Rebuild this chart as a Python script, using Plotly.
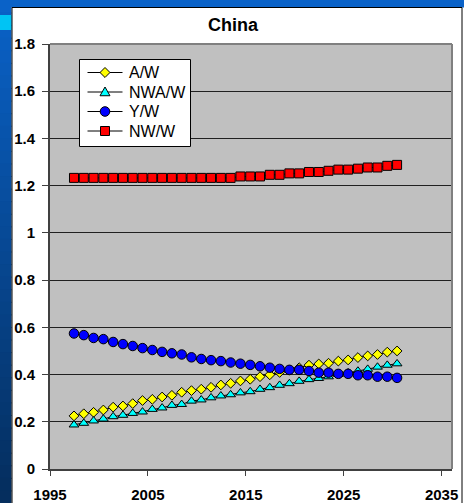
import plotly.graph_objects as go

# ---- data ----
years = list(range(1997, 2031))
a_w = [0.225, 0.234, 0.240, 0.250, 0.262, 0.267, 0.277, 0.290, 0.295, 0.305,
       0.312, 0.325, 0.332, 0.338, 0.346, 0.356, 0.363, 0.373, 0.380, 0.391,
       0.399, 0.409, 0.418, 0.429, 0.440, 0.445, 0.448, 0.457, 0.462, 0.472,
       0.479, 0.485, 0.495, 0.500]
nwa_w = [0.187, 0.194, 0.204, 0.212, 0.222, 0.228, 0.236, 0.242, 0.253, 0.259,
         0.270, 0.274, 0.288, 0.293, 0.302, 0.310, 0.315, 0.323, 0.328, 0.338,
         0.345, 0.355, 0.362, 0.372, 0.379, 0.384, 0.391, 0.401, 0.408, 0.415,
         0.423, 0.432, 0.440, 0.446]
y_w = [0.574, 0.567, 0.555, 0.550, 0.538, 0.529, 0.521, 0.512, 0.504, 0.496,
       0.490, 0.485, 0.473, 0.466, 0.461, 0.457, 0.451, 0.446, 0.441, 0.435,
       0.429, 0.424, 0.420, 0.420, 0.415, 0.408, 0.408, 0.403, 0.403, 0.397,
       0.397, 0.391, 0.391, 0.386]
nw_w = [1.233, 1.233, 1.233, 1.233, 1.233, 1.233, 1.233, 1.233, 1.233, 1.233,
        1.233, 1.233, 1.233, 1.233, 1.233, 1.233, 1.233, 1.239, 1.239, 1.239,
        1.246, 1.246, 1.252, 1.252, 1.258, 1.258, 1.263, 1.268, 1.268, 1.272,
        1.277, 1.277, 1.284, 1.288]
series_names = ["A/W", "NWA/W", "Y/W", "NW/W"]
x_ticks = [1995, 2005, 2015, 2025, 2035]
y_ticks = [0, 0.2, 0.4, 0.6, 0.8, 1, 1.2, 1.4, 1.6, 1.8]

# observations plotted at mid-year
x_pos = [yr + 0.45 for yr in years]

FONT = "Liberation Sans, Arial, sans-serif"

styles = [
    dict(symbol="diamond", color="#FFFF00", size=7.5),
    dict(symbol="triangle-up", color="#00FFFF", size=8.5),
    dict(symbol="circle", color="#0000FF", size=9.5),
    dict(symbol="square", color="#FF0000", size=9),
]

fig = go.Figure()
for name, vals, st in zip(series_names, [a_w, nwa_w, y_w, nw_w], styles):
    fig.add_trace(go.Scatter(
        x=x_pos, y=vals, name=name, mode="lines+markers",
        line=dict(color="#000000", width=1),
        marker=dict(symbol=st["symbol"], color=st["color"], size=st["size"],
                    line=dict(color="#000000", width=1)),
        showlegend=False,
    ))

W, H = 464, 503
L, R, T, B = 50, 12, 44, 34
pw, ph = W - L - R, H - T - B


def px_x(p):
    return (p - L) / pw


def px_y(p):
    return (H - B - p) / ph


shapes = []
annotations = []
# left gradient strip
top_c = (0x0A, 0x62, 0xC8)
bot_c = (0x05, 0x2E, 0x5E)
n = 40
for i in range(n):
    t = i / (n - 1)
    c = tuple(int(top_c[k] + (bot_c[k] - top_c[k]) * t) for k in range(3))
    y0p = H * i / n
    y1p = H * (i + 1) / n + 1
    shapes.append(dict(type="rect", xref="paper", yref="paper",
                       x0=px_x(-2), x1=px_x(11.5), y0=px_y(y1p), y1=px_y(y0p),
                       fillcolor="rgb(%d,%d,%d)" % c, line=dict(width=0),
                       layer="above"))
# top strip
shapes.append(dict(type="rect", xref="paper", yref="paper",
                   x0=px_x(-2), x1=px_x(W + 2), y0=px_y(7.5), y1=px_y(-2),
                   fillcolor="rgb(10,98,200)", line=dict(width=0), layer="above"))
# cyan accent
shapes.append(dict(type="rect", xref="paper", yref="paper",
                   x0=px_x(-2), x1=px_x(11.5), y0=px_y(30), y1=px_y(15),
                   fillcolor="#00C4F4", line=dict(width=0), layer="above"))
# white frame border
shapes.append(dict(type="rect", xref="paper", yref="paper",
                   x0=px_x(12), x1=px_x(462), y0=px_y(H + 10), y1=px_y(7.5),
                   fillcolor="rgba(0,0,0,0)", line=dict(color="#000000", width=1),
                   layer="above"))
# plot area top/right border (gray)
shapes.append(dict(type="line", xref="paper", yref="paper",
                   x0=0, x1=1, y0=1, y1=1,
                   line=dict(color="#808080", width=2), layer="above"))
shapes.append(dict(type="line", xref="paper", yref="paper",
                   x0=1, x1=1, y0=0, y1=1,
                   line=dict(color="#808080", width=2), layer="above"))

# ---- legend box ----
lg_x0, lg_x1, lg_y0, lg_y1 = 79.5, 190.5, 59.5, 146.5
shapes.append(dict(type="rect", xref="paper", yref="paper",
                   x0=px_x(lg_x0), x1=px_x(lg_x1), y0=px_y(lg_y1), y1=px_y(lg_y0),
                   fillcolor="#FFFFFF", line=dict(color="#000000", width=1),
                   layer="above"))
item_y = [72.5, 92.0, 111.5, 131.0]
line_x0, line_x1, sym_x, text_x = 87.5, 122.5, 105.0, 127.0
for name, st, yc in zip(series_names, styles, item_y):
    shapes.append(dict(type="line", xref="paper", yref="paper",
                       x0=px_x(line_x0), x1=px_x(line_x1),
                       y0=px_y(yc), y1=px_y(yc),
                       line=dict(color="#000000", width=1), layer="above"))
    sym = st["symbol"]
    if sym == "diamond":
        r = 5.0
        pts = [(sym_x, yc - r), (sym_x + r, yc), (sym_x, yc + r), (sym_x - r, yc)]
    elif sym == "triangle-up":
        r = 5.0
        pts = [(sym_x, yc - r), (sym_x + r, yc + r * 0.75), (sym_x - r, yc + r * 0.75)]
    else:
        pts = None
    if pts is not None:
        path = "M " + " L ".join("%.5f,%.5f" % (px_x(a), px_y(b)) for a, b in pts) + " Z"
        shapes.append(dict(type="path", xref="paper", yref="paper", path=path,
                           fillcolor=st["color"], line=dict(color="#000000", width=1),
                           layer="above"))
    else:
        r = 4.8 if sym == "circle" else 4.5
        shapes.append(dict(type="circle" if sym == "circle" else "rect",
                           xref="paper", yref="paper",
                           x0=px_x(sym_x - r), x1=px_x(sym_x + r),
                           y0=px_y(yc + r), y1=px_y(yc - r),
                           fillcolor=st["color"], line=dict(color="#000000", width=1),
                           layer="above"))
    annotations.append(dict(xref="paper", yref="paper", x=px_x(text_x), y=px_y(yc),
                            text=name, showarrow=False, xanchor="left",
                            yanchor="middle",
                            font=dict(family=FONT, size=16, color="#000000")))

fig.update_layout(
    width=W, height=H,
    margin=dict(l=L, r=R, t=T, b=B, autoexpand=False),
    paper_bgcolor="#FFFFFF",
    plot_bgcolor="#C0C0C0",
    font=dict(family=FONT, color="#000000"),
    title=dict(text="<b>China</b>", x=233 / W, xref="container", xanchor="center",
               y=1 - 25 / H, yref="container", yanchor="middle",
               font=dict(family=FONT, size=18, color="#000000")),
    showlegend=False,
    xaxis=dict(range=[1995, 2036.06], tickvals=x_ticks,
               ticktext=["<b>%d</b>" % v for v in x_ticks],
               showgrid=False, zeroline=False, automargin=False,
               showline=True, linecolor="#404040", linewidth=2,
               ticks="outside", ticklen=5, tickcolor="#404040", tickwidth=1,
               tickfont=dict(family=FONT, size=15, color="#000000"),
               ticklabelstandoff=6),
    yaxis=dict(range=[0, 1.8], tickvals=y_ticks,
               ticktext=[("<b>%g</b>" % v) for v in y_ticks],
               showgrid=True, gridcolor="#202020", gridwidth=1,
               zeroline=False, automargin=False,
               showline=True, linecolor="#404040", linewidth=2,
               ticks="outside", ticklen=6, tickcolor="#404040", tickwidth=1,
               tickfont=dict(family=FONT, size=15, color="#000000"),
               ticklabelstandoff=4),
    shapes=shapes,
    annotations=annotations,
)

fig.write_html("out.html")
